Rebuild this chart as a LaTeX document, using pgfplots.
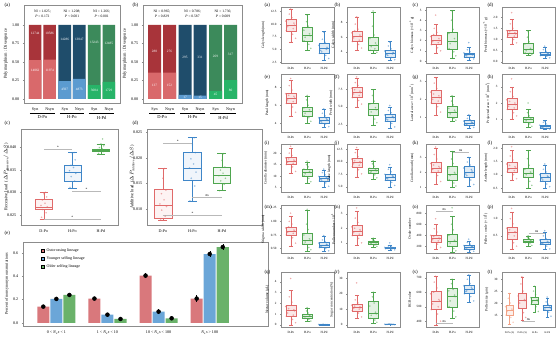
\documentclass[border=0pt]{standalone}
\usepackage{fontspec}
\setmainfont{Liberation Serif}
\usepackage{pgfplots}
\pgfplotsset{compat=1.18}
\usepgfplotslibrary{statistics}
\definecolor{aR1}{HTML}{A8343A}
\definecolor{aR2}{HTML}{D9696B}
\definecolor{aB1}{HTML}{1F4D6B}
\definecolor{aB2}{HTML}{5B9BD0}
\definecolor{aG1}{HTML}{3C8A5B}
\definecolor{aG2}{HTML}{27B468}
\definecolor{cR}{HTML}{E06A6A}
\definecolor{cG}{HTML}{4FA64F}
\definecolor{cB}{HTML}{3F86C8}
\definecolor{cS}{HTML}{F2A285}
\definecolor{eR}{HTML}{D9787C}
\definecolor{eB}{HTML}{6BA6D8}
\definecolor{eG}{HTML}{6AB26A}
\definecolor{frm}{HTML}{8C8C8C}
\newcommand\fs[2]{\fontsize{#1}{#2}\selectfont}
\pgfplotsset{
 boxplot/every median/.style={line width=0.8pt},
 base/.style={scale only axis, anchor=south west, axis line style={frm, line width=0.5pt},
   tick style={frm, line width=0.3pt}, tick align=outside, major tick length=1.2pt,
   tick pos=left, clip=false, /pgf/number format/assume math mode=true, boxplot/draw direction=y},
 rp/.style={base, width=53pt, xmin=0.4, xmax=3.6, xtick={1,2,3}, xticklabels={D-Po,H-Po,H-Pd},
   tick label style={font=\fs{3.2}{3.6}}, label style={font=\fs{3.6}{4}}, major tick length=1pt,
   ylabel style={yshift=-1pt}},
 lp/.style={base, tick label style={font=\fs{4.1}{5}}, label style={font=\fs{4.4}{5}}, ylabel style={yshift=-2.5pt}},
}
\newcommand\bx[7]{\addplot[#1, fill=#1!16, line width=0.45pt, boxplot prepared={draw position=#2, lower whisker=#3, lower quartile=#4, median=#5, upper quartile=#6, upper whisker=#7, box extend=0.6, whisker extend=0.25}] coordinates {};}
\newcommand\pts[2]{\addplot[only marks, mark=*, mark size=0.7pt, color=#1, fill opacity=0.35, draw opacity=0.5, mark options={line width=0.15pt}] coordinates {#2};}
\newcommand\sig[4]{\draw[gray!55, line width=0.6pt] (axis cs:#1,#3) -- (axis cs:#2,#3) node[midway, above, inner sep=0.4pt, text=black, font=\fs{3.6}{3.6}] {#4};}
\newcommand\plab[3]{\node[anchor=west, font=\fs{5}{5}] at (#1pt,#2pt) {#3};}
\begin{document}
\begin{tikzpicture}
\useasboundingbox (0,0) rectangle (558pt,339pt);

% ---------------- (a) left
\begin{axis}[lp, at={(24pt,236pt)}, width=96pt, height=98pt, xmin=0, xmax=99, ymin=-0.054, ymax=1.27,
  ytick={0,0.25,0.5,0.75,1}, yticklabels={0.00,0.25,0.50,0.75,1.00},
  xtick={11.5,26.5,42,57,72.5,87.5}, xticklabels={Syn,Nsyn,Syn,Nsyn,Syn,Nsyn},
  ylabel={Polymorphism : Divergence}, x tick style={draw=none}]
\addplot[ybar, bar width=13, bar shift=0pt, fill=aR1, draw=none] coordinates {(11.5,1) (26.5,1)};
\addplot[ybar, bar width=13, bar shift=0pt, fill=aR2, draw=none] coordinates {(11.5,0.525) (26.5,0.531)};
\addplot[ybar, bar width=13, bar shift=0pt, fill=aB1, draw=none] coordinates {(42,1) (57,1)};
\addplot[ybar, bar width=13, bar shift=0pt, fill=aB2, draw=none] coordinates {(42,0.243) (57,0.272)};
\addplot[ybar, bar width=13, bar shift=0pt, fill=aG1, draw=none] coordinates {(72.5,1) (87.5,1)};
\addplot[ybar, bar width=13, bar shift=0pt, fill=aG2, draw=none] coordinates {(72.5,0.189) (87.5,0.23)};
\addplot[draw=none, nodes near coords, point meta=explicit symbolic, nodes near coords style={anchor=center, text=white, font=\fs{3.4}{3.4}}]
 coordinates {(11.5,0.88)[12744] (26.5,0.88)[10586] (11.5,0.39)[14062] (26.5,0.39)[11974] (42,0.8)[14286] (57,0.8)[13047] (42,0.125)[4597] (57,0.125)[4873] (72.5,0.77)[13243] (87.5,0.75)[12485] (72.5,0.11)[3084] (87.5,0.11)[1729]};
\node[font=\fs{3.6}{4.8}, align=center] at (axis cs:19,1.155) {NI = 1.025;\\\textit{P} = 0.172};
\node[font=\fs{3.6}{4.8}, align=center] at (axis cs:49.5,1.155) {NI = 1.208;\\\textit{P} < 0.001};
\node[font=\fs{3.6}{4.8}, align=center] at (axis cs:80,1.155) {NI = 1.266;\\\textit{P} < 0.001};
\draw[line width=0.3pt] (axis cs:6,-0.19) -- (axis cs:32,-0.19);
\draw[line width=0.3pt] (axis cs:37,-0.19) -- (axis cs:62,-0.19);
\draw[line width=0.3pt] (axis cs:67,-0.19) -- (axis cs:93,-0.19);
\node[font=\fs{4.5}{5}] at (axis cs:19,-0.25) {D-Po};
\node[font=\fs{4.5}{5}] at (axis cs:49.5,-0.25) {H-Po};
\node[font=\fs{4.5}{5}] at (axis cs:80,-0.25) {H-Pd};
\end{axis}

% ---------------- (b) left
\begin{axis}[lp, at={(143pt,236pt)}, width=99pt, height=98pt, xmin=0, xmax=99, ymin=-0.054, ymax=1.27,
  ytick={0,0.25,0.5,0.75,1}, yticklabels={0.00,0.25,0.50,0.75,1.00},
  xtick={11.5,26.5,42,57,72.5,87.5}, xticklabels={Syn,Nsyn,Syn,Nsyn,Syn,Nsyn},
  ylabel={Polymorphism : Divergence}, x tick style={draw=none}]
\addplot[ybar, bar width=13, bar shift=0pt, fill=aR1, draw=none] coordinates {(11.5,1) (26.5,1)};
\addplot[ybar, bar width=13, bar shift=0pt, fill=aR2, draw=none] coordinates {(11.5,0.356) (26.5,0.356)};
\addplot[ybar, bar width=13, bar shift=0pt, fill=aB1, draw=none] coordinates {(42,1) (57,1)};
\addplot[ybar, bar width=13, bar shift=0pt, fill=aB2, draw=none] coordinates {(42,0.055) (57,0.045)};
\addplot[ybar, bar width=13, bar shift=0pt, fill=aG1, draw=none] coordinates {(72.5,1) (87.5,1)};
\addplot[ybar, bar width=13, bar shift=0pt, fill=aG2, draw=none] coordinates {(72.5,0.11) (87.5,0.256)};
\addplot[draw=none, nodes near coords, point meta=explicit symbolic, nodes near coords style={anchor=center, text=white, font=\fs{3.4}{3.4}}]
 coordinates {(11.5,0.64)[280] (26.5,0.64)[276] (11.5,0.19)[137] (26.5,0.19)[152] (42,0.56)[295] (57,0.56)[331] (42,0.025)[17] (57,0.025)[15] (72.5,0.58)[269] (87.5,0.6)[317] (72.5,0.06)[45] (87.5,0.12)[80]};
\node[font=\fs{3.6}{4.8}, align=center] at (axis cs:19,1.155) {NI = 0.965;\\\textit{P} = 0.829};
\node[font=\fs{3.6}{4.8}, align=center] at (axis cs:49.5,1.155) {NI = 0.786;\\\textit{P} = 0.587};
\node[font=\fs{3.6}{4.8}, align=center] at (axis cs:80,1.155) {NI = 1.736;\\\textit{P} = 0.009};
\draw[line width=0.3pt] (axis cs:6,-0.19) -- (axis cs:32,-0.19);
\draw[line width=0.3pt] (axis cs:37,-0.19) -- (axis cs:62,-0.19);
\draw[line width=0.3pt] (axis cs:67,-0.19) -- (axis cs:93,-0.19);
\node[font=\fs{4.5}{5}] at (axis cs:19,-0.25) {D-Po};
\node[font=\fs{4.5}{5}] at (axis cs:49.5,-0.25) {H-Po};
\node[font=\fs{4.5}{5}] at (axis cs:80,-0.25) {H-Pd};
\end{axis}

% ---------------- (c) left (values x 1000)
\begin{axis}[lp, at={(21pt,114pt)}, width=97pt, height=96pt, xmin=0.2, xmax=3.6, ymin=22.8, ymax=44,
  ytick={25,30,35,40}, yticklabels={0.025,0.030,0.035,0.040}, xtick={1,2,3}, xticklabels={D-Po,H-Po,H-Pd},
  ylabel style={at={(axis description cs:-0.118,0.5)}, anchor=south, yshift=0pt},
  ylabel={Recessive load \ ($\Delta P_{\mathrm{Recessive}}/\Delta S$)}]
\addplot[cR, line width=0.5pt, fill=cR!8, boxplot prepared={draw position=1, lower whisker=24.1, lower quartile=26.2, median=26.6, upper quartile=28.5, upper whisker=30.0, box extend=0.6, whisker extend=0.3}] coordinates {};
\addplot[cB, line width=0.5pt, fill=cB!8, boxplot prepared={draw position=2, lower whisker=31.0, lower quartile=32.5, median=34.5, upper quartile=36.1, upper whisker=38.8, box extend=0.6, whisker extend=0.3}] coordinates {};
\addplot[cG, line width=0.5pt, fill=cG!8, boxplot prepared={draw position=3, lower whisker=38.5, lower quartile=39.0, median=39.3, upper quartile=39.6, upper whisker=40.7, box extend=0.6, whisker extend=0.3}] coordinates {};
\pts{cR}{(0.92,24.5) (1.08,25.5) (0.96,26.2) (1.12,26.8) (0.9,27.1) (1.04,27.6) (0.95,28.3) (1.1,29.0) (1.0,29.7) (1.06,30.0)}
\pts{cB}{(1.92,31.1) (2.08,32.5) (1.96,33.5) (2.12,34.2) (1.9,34.8) (2.04,35.5) (1.95,36.0) (2.1,37.2) (2.0,38.5) (2.06,38.8)}
\pts{cG}{(2.92,38.6) (3.08,39.0) (2.96,39.2) (3.12,39.4) (2.9,39.5) (3.04,39.7) (2.95,39.9) (3.1,40.3) (3.0,40.7) (3.06,41.8)}
\sig{1}{2}{39.5}{*}
\sig{2}{3}{30.2}{*}
\sig{1}{3}{24.1}{*}
\end{axis}

% ---------------- (d) left (values x 1000)
\begin{axis}[lp, at={(147pt,114pt)}, width=115pt, height=96pt, xmin=0.46, xmax=4.36, ymin=6.9, ymax=25.6,
  ytick={10,15,20,25}, yticklabels={0.010,0.015,0.020,0.025}, xtick={1,2,3}, xticklabels={D-Po,H-Po,H-Pd},
  ylabel style={at={(axis description cs:-0.098,0.5)}, anchor=south, yshift=0pt},
  ylabel={Additive load \ ($\Delta P_{\mathrm{Additive}}/\Delta S$)}]
\addplot[cR, line width=0.5pt, fill=cR!8, boxplot prepared={draw position=1, lower whisker=7.8, lower quartile=8.2, median=10.7, upper quartile=13.8, upper whisker=17.9, box extend=0.6, whisker extend=0.3}] coordinates {};
\addplot[cB, line width=0.5pt, fill=cB!8, boxplot prepared={draw position=2, lower whisker=11.6, lower quartile=15.6, median=17.9, upper quartile=21.1, upper whisker=23.9, box extend=0.6, whisker extend=0.3}] coordinates {};
\addplot[cG, line width=0.5pt, fill=cG!8, boxplot prepared={draw position=3, lower whisker=13.6, lower quartile=15.1, median=16.6, upper quartile=18.2, upper whisker=20.8, box extend=0.6, whisker extend=0.3}] coordinates {};
\pts{cR}{(0.92,7.9) (1.08,8.6) (0.96,9.8) (1.12,10.5) (0.9,11.0) (1.04,11.8) (0.95,13.0) (1.1,13.7) (1.0,16.0) (1.06,17.9)}
\pts{cB}{(1.92,11.6) (2.08,14.5) (1.96,16.0) (2.12,17.2) (1.9,18.0) (2.04,18.8) (1.95,19.8) (2.1,21.0) (2.0,22.5) (2.06,23.9)}
\pts{cG}{(2.92,13.6) (3.08,14.8) (2.96,15.5) (3.12,16.0) (2.9,16.5) (3.04,17.0) (2.95,17.6) (3.1,18.2) (3.0,19.5) (3.06,20.8)}
\sig{1}{2}{22.9}{*}
\sig{2}{3}{12.3}{ns}
\sig{1}{3}{8.8}{*}
\end{axis}

% ---------------- (e) left
\begin{axis}[lp, at={(23pt,13pt)}, width=245pt, height=84pt, xmin=-0.652, xmax=4.14, ymin=-0.026, ymax=0.694,
  ytick={0,0.2,0.4,0.6}, yticklabels={0.0,0.2,0.4,0.6}, xtick={0,1,2,3},
  xticklabels={0 < \textit{N}\textsubscript{e}\textit{s} < 1, 1 < \textit{N}\textsubscript{e}\textit{s} < 10, 10 < \textit{N}\textsubscript{e}\textit{s} < 100, \textit{N}\textsubscript{e}\textit{s} > 100},
  label style={font=\fs{4.1}{5}}, ylabel={Percent of nonsynonymous mutations}, x tick style={draw=none},
  legend image code/.code={\fill[#1] (0pt,-1.7pt) rectangle (3.4pt,1.7pt);},
  legend style={at={(0.06,0.97)}, anchor=north west, draw=none, fill=none, font=\fs{4}{5}, row sep=-0.5pt}, legend cell align=left]
\addlegendimage{fill=eR}\addlegendentry{Outcrossing lineage}
\addlegendimage{fill=eB}\addlegendentry{Younger selfing lineage}
\addlegendimage{fill=eG}\addlegendentry{Older selfing lineage}
\addplot[forget plot, ybar, bar width=0.235, bar shift=0, fill=eR, draw=none] coordinates {(-0.255,0.140) (0.745,0.209) (1.745,0.406) (2.745,0.209)};
\addplot[forget plot, ybar, bar width=0.235, bar shift=0, fill=eB, draw=none] coordinates {(0,0.206) (1,0.071) (2,0.097) (3,0.591)};
\addplot[forget plot, ybar, bar width=0.235, bar shift=0, fill=eG, draw=none] coordinates {(0.255,0.240) (1.255,0.034) (2.255,0.040) (3.255,0.651)};
\addplot[forget plot, only marks, mark=none, error bars/.cd, y dir=both, y explicit, error bar style={line width=0.4pt,black}, error mark options={mark size=1.2pt, black, line width=0.4pt}]
 coordinates {(-0.255,0.140) +- (0,0.004) (0.745,0.209) +- (0,0.006) (1.745,0.406) +- (0,0.012) (2.745,0.209) +- (0,0.018)
 (0,0.206) +- (0,0.008) (1,0.071) +- (0,0.008) (2,0.097) +- (0,0.012) (3,0.591) +- (0,0.015)
 (0.255,0.240) +- (0,0.008) (1.255,0.034) +- (0,0.006) (2.255,0.040) +- (0,0.008) (3.255,0.651) +- (0,0.012)};
\end{axis}

% ================= right panels
% row 1
\begin{axis}[rp, at={(281pt,276pt)}, height=56pt, ymin=2.3, ymax=13.4, ytick={2.5,5,7.5,10,12.5}, yticklabels={2.5,5.0,7.5,10.0,12.5}, ylabel={Calyx length (mm)}]
\bx{cR}{1}{6.5}{8.65}{9.8}{11.0}{12.9}
\bx{cG}{2}{4.8}{6.7}{7.7}{9.4}{11.9}
\bx{cB}{3}{2.9}{4.2}{5.2}{6.15}{8.5}
\pts{cR}{(0.72,8.7) (1.18,10.2) (0.9,12.0) (1.28,7.2) (0.8,9.5) (1.06,11.3) (1.22,9.8) (0.68,10.6) (1.1,8.0) (0.98,13.0) (0.86,10.9) (1.14,9.1)}
\pts{cG}{(1.80,6.7) (2.12,8.1) (1.94,10.5) (2.20,5.2) (1.86,7.4) (2.04,9.6) (2.16,7.7) (1.78,8.8) (2.08,6.0) (1.98,11.8)}
\pts{cB}{(2.72,4.2) (3.18,5.4) (2.9,7.0) (3.28,3.2) (2.8,4.8) (3.06,6.4) (3.22,5.2) (2.68,5.8) (3.1,3.8) (2.98,8.4) (2.86,4.5) (3.14,5.0)}
\end{axis}
\begin{axis}[rp, at={(347pt,276pt)}, height=56pt, ymin=2.45, ymax=10.15, ytick={4,6,8}, ylabel={Calyx width (mm)}]
\bx{cR}{1}{4.2}{5.4}{6.1}{6.8}{8.8}
\bx{cG}{2}{3.8}{4.2}{4.9}{6.0}{9.4}
\bx{cB}{3}{2.8}{3.3}{3.8}{4.2}{5.4}
\pts{cR}{(0.72,5.4) (1.18,6.3) (0.9,7.8) (1.28,4.5) (0.8,5.9) (1.06,7.1) (1.22,6.1) (0.68,6.6) (1.1,5.0) (0.98,8.8) (0.86,6.9) (1.14,5.6)}
\pts{cG}{(1.80,4.2) (2.12,5.2) (1.94,7.5) (2.20,3.9) (1.86,4.7) (2.04,6.3) (2.16,4.9) (1.78,5.8) (2.08,4.4) (1.98,9.6)}
\pts{cB}{(2.72,3.3) (3.18,3.9) (2.9,4.8) (3.28,2.9) (2.8,3.6) (3.06,4.4) (3.22,3.8) (2.68,4.1) (3.1,3.2) (2.98,5.3) (2.86,3.5) (3.14,3.7)}
\end{axis}
\begin{axis}[rp, at={(426pt,276pt)}, height=56pt, ymin=-0.2, ymax=5.3, ytick={0,1,2,3,4,5}, ylabel={Calyx biomass (×10\textsuperscript{−3} g)}]
\bx{cR}{1}{0.8}{1.6}{2.0}{2.5}{3.6}
\bx{cG}{2}{0.3}{1.2}{1.9}{2.8}{5.0}
\bx{cB}{3}{0.1}{0.4}{0.6}{0.8}{1.3}
\pts{cR}{(0.72,1.6) (1.18,2.2) (0.9,3.2) (1.28,1.0) (0.8,1.9) (1.06,2.8) (1.22,2.0) (0.68,2.4) (1.1,1.3) (0.98,4.5) (0.86,2.6) (1.14,1.8)}
\pts{cG}{(1.80,1.2) (2.12,2.2) (1.94,4.0) (2.20,0.5) (1.86,1.7) (2.04,3.1) (2.16,1.9) (1.78,2.7) (2.08,0.9) (1.98,4.9)}
\pts{cB}{(2.72,0.4) (3.18,0.7) (2.9,1.1) (3.28,0.2) (2.8,0.55) (3.06,0.9) (3.22,0.6) (2.68,0.8) (3.1,0.35) (2.98,1.8) (2.86,0.5) (3.14,0.65)}
\end{axis}
\begin{axis}[rp, at={(502pt,276pt)}, height=56pt, ymin=-0.05, ymax=2.45, ytick={0,0.5,1,1.5,2}, yticklabels={0.0,0.5,1.0,1.5,2.0}, ylabel={Petal biomass (×10\textsuperscript{−3} g)}]
\bx{cR}{1}{0.8}{1.1}{1.25}{1.4}{1.9}
\bx{cG}{2}{0.3}{0.4}{0.55}{0.85}{1.4}
\bx{cB}{3}{0.15}{0.28}{0.35}{0.42}{0.65}
\pts{cR}{(0.72,1.1) (1.18,1.3) (0.9,1.7) (1.28,0.85) (0.8,1.2) (1.06,1.5) (1.22,1.25) (0.68,1.4) (1.1,1.0) (0.98,2.2) (0.86,1.35) (1.14,1.15)}
\pts{cG}{(1.80,0.4) (2.12,0.6) (1.94,1.1) (2.20,0.32) (1.86,0.5) (2.04,0.9) (2.16,0.55) (1.78,0.8) (2.08,0.38) (1.98,1.35)}
\pts{cB}{(2.72,0.28) (3.18,0.37) (2.9,0.55) (3.28,0.18) (2.8,0.33) (3.06,0.47) (3.22,0.35) (2.68,0.41) (3.1,0.25) (2.98,0.7) (2.86,0.3) (3.14,0.39)}
\end{axis}
% row 2
\begin{axis}[rp, at={(281pt,207pt)}, height=58pt, ymin=3, ymax=9.5, ytick={4,6,8}, ylabel={Petal length (mm)}]
\bx{cR}{1}{4.8}{6.2}{6.8}{7.4}{8.8}
\bx{cG}{2}{4.0}{4.8}{5.3}{5.8}{7.0}
\bx{cB}{3}{3.5}{4.0}{4.3}{4.6}{5.5}
\pts{cR}{(0.72,6.2) (1.18,7.0) (0.9,8.2) (1.28,5.2) (0.8,6.6) (1.06,7.7) (1.22,6.8) (0.68,7.3) (1.1,5.8) (0.98,9.0) (0.86,7.1) (1.14,6.4)}
\pts{cG}{(1.80,4.8) (2.12,5.5) (1.94,6.6) (2.20,4.2) (1.86,5.1) (2.04,6.0) (2.16,5.3) (1.78,5.7) (2.08,4.6) (1.98,7.1)}
\pts{cB}{(2.72,4.0) (3.18,4.4) (2.9,5.1) (3.28,3.6) (2.8,4.2) (3.06,4.8) (3.22,4.3) (2.68,4.6) (3.1,3.9) (2.98,5.6) (2.86,4.1) (3.14,4.5)}
\end{axis}
\begin{axis}[rp, at={(347pt,207pt)}, height=58pt, ymin=1.5, ymax=9.6, ytick={2.5,5,7.5}, yticklabels={2.5,5.0,7.5}, ylabel={Petal width (mm)}]
\bx{cR}{1}{5.0}{6.3}{7.0}{7.7}{9.0}
\bx{cG}{2}{2.5}{3.8}{4.6}{5.5}{7.5}
\bx{cB}{3}{2.0}{3.0}{3.5}{4.0}{5.0}
\pts{cR}{(0.72,6.3) (1.18,7.2) (0.9,8.4) (1.28,5.4) (0.8,6.8) (1.06,8.0) (1.22,7.0) (0.68,7.6) (1.1,5.9) (0.98,9.2) (0.86,7.4) (1.14,6.6)}
\pts{cG}{(1.80,3.8) (2.12,4.9) (1.94,6.6) (2.20,2.8) (1.86,4.3) (2.04,5.8) (2.16,4.6) (1.78,5.4) (2.08,3.3) (1.98,7.4)}
\pts{cB}{(2.72,3.0) (3.18,3.6) (2.9,4.5) (3.28,2.2) (2.8,3.3) (3.06,4.2) (3.22,3.5) (2.68,3.9) (3.1,2.7) (2.98,5.2) (2.86,3.2) (3.14,3.7)}
\end{axis}
\begin{axis}[rp, at={(426pt,207pt)}, height=58pt, ymin=0.2, ymax=3.4, ytick={1,2,3}, ylabel={Lateral area × 10\textsuperscript{2} (mm\textsuperscript{2})}]
\bx{cR}{1}{1.1}{1.8}{2.1}{2.5}{3.2}
\bx{cG}{2}{0.8}{1.0}{1.3}{1.6}{2.2}
\bx{cB}{3}{0.4}{0.6}{0.7}{0.85}{1.1}
\pts{cR}{(0.72,1.8) (1.18,2.2) (0.9,2.9) (1.28,1.3) (0.8,2.0) (1.06,2.6) (1.22,2.1) (0.68,2.4) (1.1,1.6) (0.98,3.2) (0.86,2.3) (1.14,1.9)}
\pts{cG}{(1.80,1.0) (2.12,1.4) (1.94,1.9) (2.20,0.85) (1.86,1.2) (2.04,1.7) (2.16,1.3) (1.78,1.5) (2.08,0.95) (1.98,2.2)}
\pts{cB}{(2.72,0.6) (3.18,0.72) (2.9,0.95) (3.28,0.45) (2.8,0.66) (3.06,0.88) (3.22,0.7) (2.68,0.8) (3.1,0.55) (2.98,1.15) (2.86,0.62) (3.14,0.75)}
\end{axis}
\begin{axis}[rp, at={(502pt,207pt)}, height=58pt, ymin=0.2, ymax=3.8, ytick={1,2,3}, ylabel={Projected area × 10\textsuperscript{2} (mm\textsuperscript{2})}]
\bx{cR}{1}{1.0}{1.6}{1.9}{2.3}{3.0}
\bx{cG}{2}{0.5}{0.8}{1.0}{1.1}{1.6}
\bx{cB}{3}{0.35}{0.45}{0.55}{0.65}{0.9}
\pts{cR}{(0.72,1.6) (1.18,2.0) (0.9,2.7) (1.28,1.2) (0.8,1.8) (1.06,2.4) (1.22,1.9) (0.68,2.2) (1.1,1.4) (0.98,3.5) (0.86,2.1) (1.14,1.7)}
\pts{cG}{(1.80,0.8) (2.12,1.0) (1.94,1.4) (2.20,0.55) (1.86,0.9) (2.04,1.2) (2.16,1.0) (1.78,1.1) (2.08,0.7) (1.98,2.0)}
\pts{cB}{(2.72,0.45) (3.18,0.56) (2.9,0.8) (3.28,0.38) (2.8,0.5) (3.06,0.7) (3.22,0.55) (2.68,0.62) (3.1,0.42) (2.98,0.88) (2.86,0.48) (3.14,0.6)}
\end{axis}
% row 3
\begin{axis}[rp, at={(281pt,147pt)}, height=48pt, ymin=3, ymax=24, ytick={5,10,15,20}, ylabel={Corolla diameter (mm)}]
\bx{cR}{1}{11}{15}{16.5}{18}{22}
\bx{cG}{2}{7}{10}{11.5}{13}{16}
\bx{cB}{3}{5}{7.8}{8.8}{9.8}{12.5}
\pts{cR}{(0.72,15) (1.18,17) (0.9,20) (1.28,12) (0.8,16) (1.06,19) (1.22,16.5) (0.68,18) (1.1,14) (0.98,23) (0.86,17.5) (1.14,15.5)}
\pts{cG}{(1.80,10) (2.12,12) (1.94,15) (2.20,7.5) (1.86,11) (2.04,14) (2.16,11.5) (1.78,13) (2.08,9) (1.98,16.5)}
\pts{cB}{(2.72,7.8) (3.18,9) (2.9,11.5) (3.28,5.5) (2.8,8.5) (3.06,10.5) (3.22,8.8) (2.68,9.8) (3.1,7) (2.98,13) (2.86,8.2) (3.14,9.4)}
\end{axis}
\begin{axis}[rp, at={(347pt,147pt)}, height=48pt, ymin=4, ymax=13.5, ytick={5,7.5,10,12.5}, yticklabels={5.0,7.5,10.0,12.5}, ylabel={Tube length (mm)}]
\bx{cR}{1}{7}{9}{9.8}{10.6}{12.5}
\bx{cG}{2}{6.5}{7.8}{8.2}{8.8}{10}
\bx{cB}{3}{5}{6.3}{6.9}{7.6}{9}
\pts{cR}{(0.72,9.0) (1.18,10.0) (0.9,11.8) (1.28,7.6) (0.8,9.6) (1.06,11.0) (1.22,9.8) (0.68,10.5) (1.1,8.4) (0.98,12.8) (0.86,10.2) (1.14,9.3)}
\pts{cG}{(1.80,7.8) (2.12,8.4) (1.94,9.6) (2.20,6.8) (1.86,8.0) (2.04,9.1) (2.16,8.2) (1.78,8.7) (2.08,7.4) (1.98,10.2)}
\pts{cB}{(2.72,6.3) (3.18,7.1) (2.9,8.5) (3.28,5.3) (2.8,6.7) (3.06,8.0) (3.22,6.9) (2.68,7.5) (3.1,5.9) (2.98,9.4) (2.86,6.6) (3.14,7.2)}
\end{axis}
\begin{axis}[rp, at={(426pt,147pt)}, height=48pt, ymin=0.7, ymax=3.9, ytick={1,2,3}, ylabel={Corolla mouth (mm)}]
\bx{cR}{1}{1.2}{2.0}{2.3}{2.7}{3.6}
\bx{cG}{2}{1.0}{1.5}{1.9}{2.4}{3.4}
\bx{cB}{3}{1.1}{1.7}{2.0}{2.4}{3.0}
\pts{cR}{(0.72,2.0) (1.18,2.4) (0.9,3.2) (1.28,1.4) (0.8,2.2) (1.06,2.9) (1.22,2.3) (0.68,2.6) (1.1,1.8) (0.98,3.7) (0.86,2.5) (1.14,2.1)}
\pts{cG}{(1.80,1.5) (2.12,2.0) (1.94,2.9) (2.20,1.1) (1.86,1.8) (2.04,2.6) (2.16,1.9) (1.78,2.3) (2.08,1.3) (1.98,3.4)}
\pts{cB}{(2.72,1.7) (3.18,2.1) (2.9,2.7) (3.28,1.2) (2.8,1.9) (3.06,2.5) (3.22,2.0) (2.68,2.3) (3.1,1.5) (2.98,3.0) (2.86,1.8) (3.14,2.2)}
\sig{2}{3}{3.35}{ns}
\end{axis}
\begin{axis}[rp, at={(502pt,147pt)}, height=48pt, ymin=0.35, ymax=2.15, ytick={0.5,1,1.5,2}, yticklabels={0.5,1.0,1.5,2.0}, ylabel={Anther length (mm)}]
\bx{cR}{1}{0.8}{1.1}{1.25}{1.45}{1.9}
\bx{cG}{2}{0.5}{0.9}{1.05}{1.25}{1.9}
\bx{cB}{3}{0.5}{0.75}{0.9}{1.05}{1.35}
\pts{cR}{(0.72,1.1) (1.18,1.3) (0.9,1.7) (1.28,0.85) (0.8,1.2) (1.06,1.55) (1.22,1.25) (0.68,1.4) (1.1,1.0) (0.98,2.05) (0.86,1.35) (1.14,1.15)}
\pts{cG}{(1.80,0.9) (2.12,1.1) (1.94,1.6) (2.20,0.6) (1.86,1.0) (2.04,1.35) (2.16,1.05) (1.78,1.2) (2.08,0.75) (1.98,1.9)}
\pts{cB}{(2.72,0.75) (3.18,0.92) (2.9,1.2) (3.28,0.55) (2.8,0.85) (3.06,1.1) (3.22,0.9) (2.68,1.0) (3.1,0.65) (2.98,1.4) (2.86,0.8) (3.14,0.95)}
\end{axis}
% row 4
\begin{axis}[rp, at={(281pt,86pt)}, height=48pt, ymin=0.42, ymax=1.3, ytick={0.5,0.75,1,1.25}, yticklabels={0.50,0.75,1.00,1.25}, ylabel={Stigma width (mm)}]
\bx{cR}{1}{0.55}{0.75}{0.82}{0.9}{1.1}
\bx{cG}{2}{0.45}{0.58}{0.65}{0.78}{1.2}
\bx{cB}{3}{0.45}{0.52}{0.56}{0.62}{0.72}
\pts{cR}{(0.72,0.75) (1.18,0.84) (0.9,1.0) (1.28,0.6) (0.8,0.8) (1.06,0.95) (1.22,0.82) (0.68,0.88) (1.1,0.7) (0.98,1.15) (0.86,0.9) (1.14,0.78)}
\pts{cG}{(1.80,0.58) (2.12,0.68) (1.94,0.95) (2.20,0.48) (1.86,0.62) (2.04,0.85) (2.16,0.65) (1.78,0.75) (2.08,0.52) (1.98,1.22)}
\pts{cB}{(2.72,0.52) (3.18,0.57) (2.9,0.66) (3.28,0.46) (2.8,0.54) (3.06,0.63) (3.22,0.56) (2.68,0.6) (3.1,0.5) (2.98,0.74) (2.86,0.55) (3.14,0.58)}
\end{axis}
\begin{axis}[rp, at={(347pt,86pt)}, height=48pt, ymin=0.3, ymax=3.6, ytick={1,2,3}, ylabel={Pollen number × 10\textsuperscript{4}}]
\bx{cR}{1}{0.8}{1.5}{1.8}{2.2}{3.2}
\bx{cG}{2}{0.7}{0.9}{1.0}{1.1}{1.3}
\bx{cB}{3}{0.5}{0.6}{0.65}{0.7}{0.85}
\pts{cR}{(0.72,1.5) (1.18,1.9) (0.9,2.7) (1.28,1.0) (0.8,1.7) (1.06,2.4) (1.22,1.8) (0.68,2.1) (1.1,1.3) (0.98,3.4) (0.86,2.0) (1.14,1.6)}
\pts{cG}{(1.80,0.9) (2.12,1.02) (1.94,1.2) (2.20,0.75) (1.86,0.95) (2.04,1.15) (2.16,1.0) (1.78,1.08) (2.08,0.85) (1.98,1.32)}
\pts{cB}{(2.72,0.6) (3.18,0.66) (2.9,0.78) (3.28,0.52) (2.8,0.63) (3.06,0.74) (3.22,0.65) (2.68,0.69) (3.1,0.57) (2.98,1.0) (2.86,0.62) (3.14,0.67)}
\end{axis}
\begin{axis}[rp, at={(426pt,86pt)}, height=48pt, ymin=80, ymax=950, ytick={200,400,600,800}, ylabel={Ovule number}]
\bx{cR}{1}{150}{280}{340}{410}{600}
\bx{cG}{2}{100}{200}{290}{420}{750}
\bx{cB}{3}{100}{150}{190}{220}{300}
\pts{cR}{(0.72,280) (1.18,350) (0.9,520) (1.28,180) (0.8,320) (1.06,460) (1.22,340) (0.68,400) (1.1,240) (0.98,700) (0.86,380) (1.14,300)}
\pts{cG}{(1.80,200) (2.12,310) (1.94,600) (2.20,120) (1.86,260) (2.04,500) (2.16,290) (1.78,400) (2.08,160) (1.98,900)}
\pts{cB}{(2.72,150) (3.18,195) (2.9,270) (3.28,110) (2.8,175) (3.06,240) (3.22,190) (2.68,215) (3.1,135) (2.98,330) (2.86,170) (3.14,205)}
\sig{1}{2}{830}{ns}
\end{axis}
\begin{axis}[rp, at={(502pt,86pt)}, height=48pt, ymin=0, ymax=1.4, ytick={0.5,1}, yticklabels={0.5,1.0}, ylabel={Pollen : ovule (× 10\textsuperscript{2})}]
\bx{cR}{1}{0.1}{0.4}{0.6}{0.75}{1.2}
\bx{cG}{2}{0.2}{0.3}{0.35}{0.4}{0.5}
\bx{cB}{3}{0.1}{0.25}{0.3}{0.4}{0.6}
\pts{cR}{(0.72,0.4) (1.18,0.62) (0.9,1.0) (1.28,0.2) (0.8,0.55) (1.06,0.85) (1.22,0.6) (0.68,0.72) (1.1,0.3) (0.98,1.3) (0.86,0.68) (1.14,0.5)}
\pts{cG}{(1.80,0.3) (2.12,0.36) (1.94,0.45) (2.20,0.22) (1.86,0.33) (2.04,0.42) (2.16,0.35) (1.78,0.39) (2.08,0.27) (1.98,0.5)}
\pts{cB}{(2.72,0.25) (3.18,0.32) (2.9,0.5) (3.28,0.12) (2.8,0.28) (3.06,0.42) (3.22,0.3) (2.68,0.38) (3.1,0.2) (2.98,0.65) (2.86,0.27) (3.14,0.34)}
\sig{2}{3}{0.58}{ns}
\end{axis}
% row 5
\begin{axis}[rp, at={(281pt,12pt)}, height=55pt, ymin=-0.2, ymax=4.9, ytick={0,1,2,3,4}, ylabel={Nectar volume (μL)}]
\bx{cR}{1}{0}{0.8}{1.3}{1.8}{3.2}
\bx{cG}{2}{0.3}{0.6}{0.8}{1.0}{1.5}
\bx{cB}{3}{0}{0.01}{0.02}{0.03}{0.05}
\pts{cR}{(0.72,0.8) (1.18,1.4) (0.9,2.6) (1.28,0.2) (0.8,1.1) (1.06,2.1) (1.22,1.3) (0.68,1.7) (1.1,0.5) (0.98,4.3) (0.86,1.5) (1.14,0.9)}
\pts{cG}{(1.80,0.6) (2.12,0.85) (1.94,1.3) (2.20,0.35) (1.86,0.75) (2.04,1.1) (2.16,0.8) (1.78,0.95) (2.08,0.5) (1.98,1.6)}
\pts{cB}{(2.72,0.01) (3.18,0.02) (2.9,0.04) (3.28,0.0) (2.8,0.02) (3.06,0.03) (3.22,0.02) (2.68,0.03) (3.1,0.01) (2.98,0.05) (2.86,0.02) (3.14,0.01)}
\end{axis}
\begin{axis}[rp, at={(347pt,12pt)}, height=55pt, ymin=-1.5, ymax=34, ytick={0,10,20,30}, ylabel={Sugar concentration (\%)}]
\bx{cR}{1}{4}{9}{11}{13}{19}
\bx{cG}{2}{1}{4}{7}{15}{21}
\bx{cB}{3}{0}{0.05}{0.2}{0.4}{0.6}
\pts{cR}{(0.72,9) (1.18,11.5) (0.9,16) (1.28,5) (0.8,10.5) (1.06,14) (1.22,11) (0.68,12.5) (1.1,7.5) (0.98,27) (0.86,12) (1.14,10)}
\pts{cG}{(1.80,4) (2.12,8) (1.94,18) (2.20,1.5) (1.86,6) (2.04,14) (2.16,7) (1.78,12) (2.08,3) (1.98,21)}
\pts{cB}{(2.72,0.1) (3.18,0.2) (2.9,0.4) (3.28,0.0) (2.8,0.2) (3.06,0.3) (3.22,0.2) (2.68,0.3) (3.1,0.1) (2.98,0.5) (2.86,0.2) (3.14,0.1)}
\end{axis}
\begin{axis}[rp, at={(426pt,12pt)}, height=55pt, ymin=360, ymax=740, ytick={400,500,600,700}, ylabel={RGB value}]
\bx{cR}{1}{370}{480}{540}{610}{710}
\bx{cG}{2}{420}{500}{570}{630}{690}
\bx{cB}{3}{530}{590}{620}{650}{720}
\pts{cR}{(0.72,480) (1.18,550) (0.9,670) (1.28,400) (0.8,520) (1.06,630) (1.22,540) (0.68,590) (1.1,450) (0.98,710) (0.86,600) (1.14,500)}
\pts{cG}{(1.80,500) (2.12,580) (1.94,660) (2.20,430) (1.86,540) (2.04,620) (2.16,570) (1.78,610) (2.08,470) (1.98,690)}
\pts{cB}{(2.72,590) (3.18,625) (2.9,690) (3.28,540) (2.8,605) (3.06,660) (3.22,620) (2.68,645) (3.1,570) (2.98,720) (2.86,610) (3.14,635)}
\sig{1}{2}{385}{ns}
\end{axis}
\begin{axis}[rp, at={(502pt,12pt)}, height=55pt, xmin=0.4, xmax=4.6, xtick={1,2,3,4}, xticklabels={D-Po (L),D-Po (S),H-Po,H-Pd}, ymin=10, ymax=33, ytick={15,20,25,30}, ylabel={Pollen size (μm)}, xticklabel style={font=\fs{2.6}{3}}]
\bx{cS}{1}{11}{15}{17}{19}{24}
\bx{cR}{2}{13}{18}{21}{24}{31}
\bx{cG}{3}{16}{19.5}{21}{22.5}{27}
\bx{cB}{4}{14}{17}{18}{19}{22}
\pts{cS}{(0.72,15) (1.18,17.5) (0.9,22) (1.28,12) (0.8,16.5) (1.06,20) (1.22,17) (0.68,18.5) (1.1,14) (0.98,24)}
\pts{cR}{(1.72,18) (2.18,21.5) (1.9,28) (2.28,14) (1.8,20) (2.06,25) (2.22,21) (1.68,23) (2.1,16) (1.98,31)}
\pts{cG}{(2.72,19.5) (3.18,21.3) (2.9,25) (3.28,16.5) (2.8,20.5) (3.06,23.5) (3.22,21) (2.68,22.3) (3.1,18.5) (2.98,27)}
\pts{cB}{(3.72,17) (4.18,18.3) (3.9,20.5) (4.28,14.5) (3.8,17.5) (4.06,19.5) (4.22,18) (3.68,18.8) (4.1,16.2) (3.98,22.5)}
\sig{2}{3}{12.5}{ns}
\end{axis}

% panel labels
\plab{1}{334}{(a)}
\plab{129}{334}{(b)}
\plab{1}{216}{(c)}
\plab{129}{216}{(d)}
\plab{1}{106}{(e)}
\plab{261}{334}{(a)}
\plab{331}{334}{(b)}
\plab{409}{334}{(c)}
\plab{484}{334}{(d)}
\plab{261}{262}{(e)}
\plab{331}{262}{(f)}
\plab{409}{262}{(g)}
\plab{484}{262}{(h)}
\plab{261}{196}{(i)}
\plab{331}{196}{(j)}
\plab{409}{196}{(k)}
\plab{484}{196}{(l)}
\plab{261}{132}{(m)}
\plab{331}{132}{(n)}
\plab{409}{132}{(o)}
\plab{484}{132}{(p)}
\plab{261}{67}{(q)}
\plab{331}{67}{(r)}
\plab{409}{67}{(s)}
\plab{484}{67}{(t)}
\end{tikzpicture}
\end{document}
